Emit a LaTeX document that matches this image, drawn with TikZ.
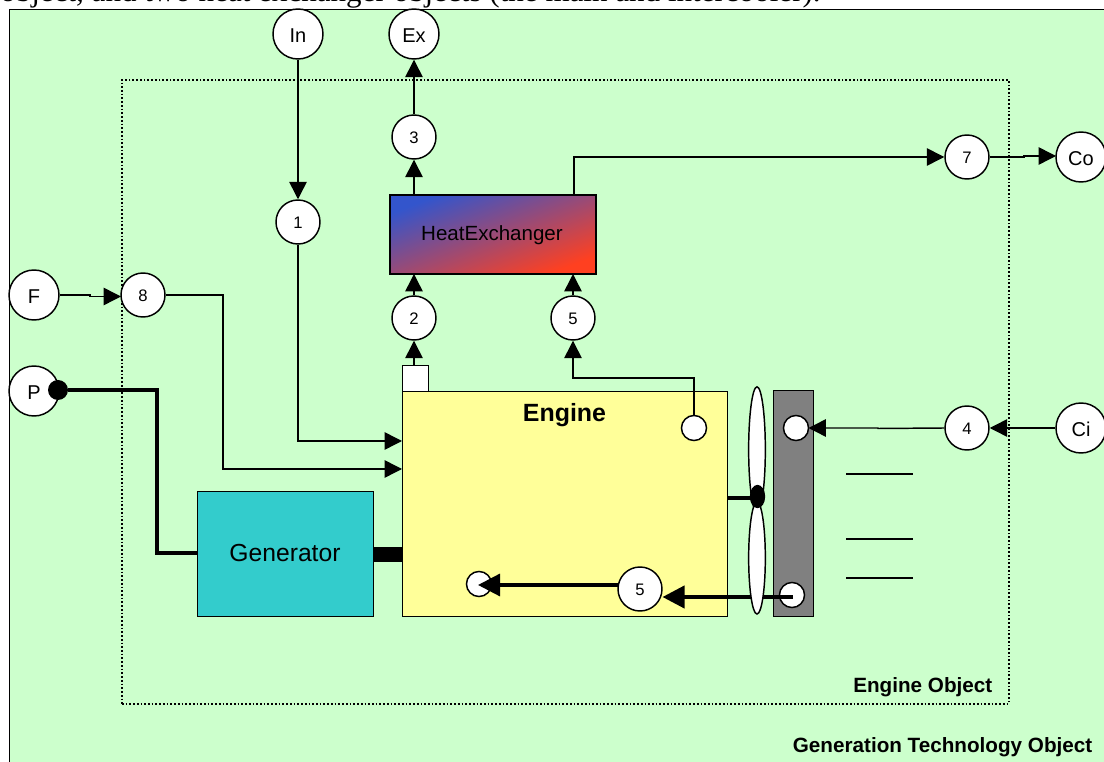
\documentclass[tikz,border=0pt]{standalone}
\usepackage{fontspec}
\setmainfont{Liberation Sans}
\newfontfamily\serifcap{Liberation Serif}
\usetikzlibrary{arrows.meta,shapes.geometric}
\definecolor{bgreen}{HTML}{CCFFCC}
\definecolor{eyellow}{HTML}{FFFF99}
\definecolor{gteal}{HTML}{33CCCC}
\definecolor{hblue}{HTML}{3355CC}
\definecolor{hpurple}{HTML}{A84CA0}
\definecolor{hred}{HTML}{FF4020}
\tikzset{
  x=0.75pt,y=-0.75pt,
  lw/.style={line width=1.1pt},
  bigc/.style={circle,draw,fill=white,lw,inner sep=0pt,minimum size=37.5pt,text height=12.3pt,text depth=0pt,font=\fontsize{15}{15}\selectfont},
  numc/.style={circle,draw,fill=white,lw,inner sep=0pt,minimum size=33pt,text height=10.4pt,text depth=0pt,font=\fontsize{12.5}{13}\selectfont},
  port/.style={circle,draw,fill=white,lw,inner sep=0pt,minimum size=18.8pt},
  conn/.style={lw,-{Triangle[length=13pt,width=13pt]}},
  heavy/.style={line width=3pt,-{Triangle[length=16.5pt,width=16.5pt]}},
  box/.style={draw,lw,inner sep=0pt,anchor=north west},
  tick/.style={line width=1.1pt},
}
\begin{document}
\begin{tikzpicture}
\useasboundingbox (0,0) rectangle (1104,762);
\clip (0,0) rectangle (1104,762);
\node[anchor=base west,inner sep=0pt,font=\serifcap\fontsize{23.3}{24}\selectfont] (cap) at (0,1.5) {object, and two heat exchanger objects (the main and intercooler).};
\node[draw,lw,fill=bgreen,anchor=north west,inner sep=0pt,minimum width=825pt,minimum height=570pt] (outer) at (8.5,9) {};
\node[draw,line width=1.3pt,dash pattern=on 1.3pt off 1.5pt,anchor=north west,inner sep=0pt,minimum width=665.2pt,minimum height=468pt] (inner) at (121,79) {};
\node[anchor=base east,inner sep=0pt,font=\bfseries\fontsize{15.5}{16}\selectfont] (lbl1) at (992.5,692.5) {Engine Object};
\node[anchor=base east,inner sep=0pt,font=\bfseries\fontsize{15.5}{16}\selectfont] (lbl2) at (1092.5,752.5) {Generation Technology Object};

% main blocks
\node[box,fill=eyellow,minimum width=243.75pt,minimum height=168.75pt] (engine) at (402,391) {};
\node[anchor=base,inner sep=0pt,font=\bfseries\fontsize{18.7}{19}\selectfont] (enginelbl) at (564.5,422) {Engine};
\node[box,fill=white,minimum width=19.5pt,minimum height=19.5pt] (exh) at (402,365) {};
\node[box,fill=gteal,minimum width=132pt,minimum height=93.75pt] (gen) at (197,491) {};
\node[font=\fontsize{18.5}{19}\selectfont,inner sep=0pt] (genlbl) at (285,553) {Generator};
\node[box,fill=black,minimum width=21.75pt,minimum height=10.5pt] (shaft) at (373,547) {};
\node[box,fill=black!50,minimum width=30pt,minimum height=169.5pt] (rad) at (773,390) {};
\shade[draw=black,lw,shading=axis,left color=hblue,middle color=hpurple,right color=hred,shading angle=21] (390,195) rectangle (596,274);
\node[inner sep=0pt,font=\fontsize{15.4}{16}\selectfont] (he) at (492,235.5) {HeatExchanger};

% circles
\node[bigc] (in) at (298,34) {In};
\node[bigc] (ex) at (414,34) {Ex};
\node[bigc] (co) at (1081,157) {Co};
\node[bigc] (ci) at (1081,428) {Ci};
\node[bigc] (f) at (34,295) {F};
\node[bigc] (p) at (34,391) {P};
\node[numc] (n1) at (298,222) {1};
\node[numc] (n2) at (414,318) {2};
\node[numc] (n3) at (414,137) {3};
\node[numc] (n4) at (967,428) {4};
\node[numc] (n5a) at (573,318) {5};
\node[numc] (n5b) at (640,589) {5};
\node[numc] (n7) at (967,157) {7};
\node[numc] (n8) at (143,295) {8};
\node[port] (pa) at (694,428) {};
\node[port] (pb) at (796,428) {};
\node[port] (pc) at (792,595) {};
\node[port] (pd) at (479,584) {};
\node[circle,fill=black,inner sep=0pt,minimum size=15pt] (pdot) at (58,390) {};

% helper points on the block edges
\coordinate (e1) at (402,441);
\coordinate (e2) at (402,469);
\coordinate (h2) at (414,274);
\coordinate (h5) at (573,274);
\coordinate (h3) at (414,195);
\coordinate (h7) at (574,195);
\coordinate (g1) at (197,553);
\coordinate (em) at (727,498);
\coordinate (hubw) at (752,498);
\coordinate (fromrad) at (793,597);
\coordinate (to5b) at (662.5,597);
\coordinate (from5b) at (618,585);
\coordinate (topd) at (478,585);
\coordinate (n8in) at (121,296.5);
\coordinate (coin) at (1056,156);
\coordinate (pbin) at (808.5,428);

% connectors
\draw[conn] (in) -- (n1);
\draw[conn] (n1) |- (e1);
\draw[conn] (f.east) -- (90,295) -- (90,296.5) -- (n8in);
\draw[conn] (n8) -| (223,469) -- (e2);
\draw[conn] (exh.north -| n2) -- (n2);
\draw[conn] (n2) -- (h2);
\draw[conn] (n5a) -- (h5);
\draw[conn] (pa) |- (573,378) -- (n5a);
\draw[conn] (h3) -- (n3);
\draw[conn] (n3) -- (ex);
\draw[conn] (h7) |- (n7);
\draw[conn] (n7.east) -- (1024,157) -- (1024,156) -- (coin);
\draw[conn] (ci) -- (n4);
\draw[conn] (n4.west) -- (878,428.5) -- (878,428) -- (pbin);
\draw[line width=3.2pt] (pdot) -| (157,553) -- (g1);
\draw[line width=3.2pt] (em) -- (hubw);
\draw[heavy] (fromrad) -- (to5b);
\draw[line width=2.4pt,-{Triangle[length=16.5pt,width=16.5pt]}] (from5b) -- (topd);

% fan
\node[ellipse,draw,fill=white,lw,inner sep=0pt,minimum width=12.5pt,minimum height=94pt] (bladeu) at (757,449.5) {};
\node[ellipse,draw,fill=white,lw,inner sep=0pt,minimum width=12.5pt,minimum height=84pt] (bladel) at (757,558) {};
\node[ellipse,fill=black,inner sep=0pt,minimum width=11.5pt,minimum height=17.5pt] (hub) at (757.5,496.5) {};

% fins
\coordinate (f1) at (846,474);
\coordinate (f1e) at (913,474);
\coordinate (f2) at (846,539);
\coordinate (f2e) at (913,539);
\coordinate (f3) at (846,578);
\coordinate (f3e) at (913,578);
\draw[tick] (f1) -- (f1e);
\draw[tick] (f2) -- (f2e);
\draw[tick] (f3) -- (f3e);
\end{tikzpicture}
\end{document}
